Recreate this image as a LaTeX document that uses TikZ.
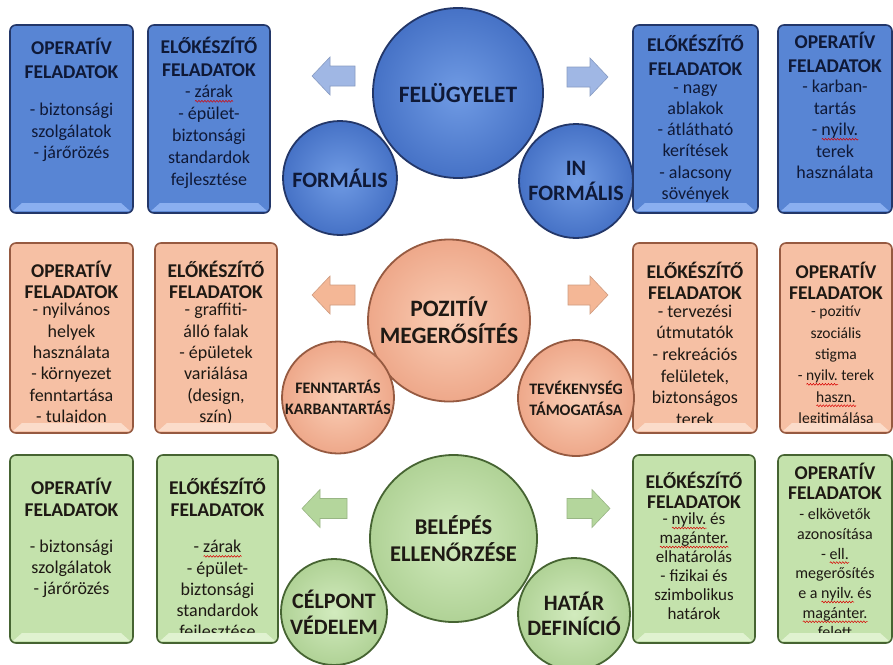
\documentclass[tikz,border=0pt]{standalone}
\usepackage{fontspec}
\setmainfont{Carlito}
\usetikzlibrary{decorations.pathmorphing}

\definecolor{bluefill}{RGB}{88,133,212}
\definecolor{blueedge}{RGB}{35,55,105}
\definecolor{bluelight}{RGB}{138,175,240}
\definecolor{bluearr}{RGB}{160,183,228}
\definecolor{bluein}{RGB}{112,155,228}
\definecolor{blueout}{RGB}{70,114,198}
\definecolor{bluetext}{RGB}{15,25,55}
\definecolor{orangefill}{RGB}{246,192,164}
\definecolor{orangeedge}{RGB}{150,90,65}
\definecolor{orangelight}{RGB}{251,220,202}
\definecolor{orangearr}{RGB}{244,183,150}
\definecolor{orangein}{RGB}{250,206,182}
\definecolor{orangeout}{RGB}{238,168,138}
\definecolor{greenfill}{RGB}{196,226,172}
\definecolor{greenedge}{RGB}{70,100,50}
\definecolor{greenlight}{RGB}{224,242,208}
\definecolor{greenarr}{RGB}{180,214,156}
\definecolor{greenin}{RGB}{210,235,190}
\definecolor{greenout}{RGB}{176,210,150}
\definecolor{darktext}{RGB}{30,25,20}

% red spell-check wave under a word
\newsavebox\spellbox
\newlength\spellwd
\newcommand\spellerr[1]{\sbox\spellbox{#1}\setlength\spellwd{\wd\spellbox}%
  \rlap{\tikz[baseline=0pt,x=1pt,y=1pt]\draw[red!85!black, line width=0.5,
    decorate, decoration={snake, amplitude=0.9pt, segment length=3pt}] (0,-3.5) -- (\spellwd,-3.5);}%
  \usebox\spellbox}

\begin{document}
\begin{tikzpicture}[x=1pt,y=-1pt,
  boxtitle/.style={font=\bfseries\fontsize{19.5}{23.5}\selectfont, align=center, inner sep=0,
    execute at begin node={\rule{0pt}{0.82em}}},
  boxbody/.style={font=\fontsize{18}{21.5}\selectfont, align=center, inner sep=0,
    execute at begin node={\rule{0pt}{0.75em}}, execute at end node={\rule[-0.22em]{0pt}{0.22em}}},
  bigcirc/.style={circle, line width=1.8, minimum size=#1, inner sep=0, align=center,
    font=\bfseries\fontsize{23.5}{27}\selectfont},
  smallcirc/.style={circle, line width=1.8, minimum size=#1, inner sep=0, align=center,
    font=\bfseries\fontsize{22}{25.5}\selectfont}]
\fill[white] (0,0) rectangle (893,664);
\useasboundingbox (0,0) rectangle (893,664);

% Task boxes
\foreach \xa/\xb/\ya/\yb/\col in {10/133/25/213/blue, 148/270/25/213/blue, 633/758/25/213/blue, 778/892/25/213/blue,
    10/133/243/433/orange, 155/277/243/433/orange, 633/757/243/433/orange, 780/892/243/433/orange,
    10/133/455/643/green, 157/278/455/643/green, 633/755/455/643/green, 778/892/455/643/green}
  \draw[draw=\col edge, fill=\col fill, line width=1.6, rounded corners=6] (\xa,\ya) rectangle (\xb,\yb);

% Big circles
\node[bigcirc=170, draw=blueedge, inner color=bluein, outer color=blueout, text=bluetext] (felugyelet) at (458,93) {FELÜGYELET};
\node[bigcirc=162, draw=orangeedge, inner color=orangein, outer color=orangeout, text=darktext] (pozitiv) at (449,320.5) {POZITÍV\\MEGERŐSÍTÉS};
\node[bigcirc=167, draw=greenedge, inner color=greenin, outer color=greenout, text=darktext,
  font=\bfseries\fontsize{22.5}{27}\selectfont] (belepes) at (453.5,538.5) {BELÉPÉS\\ELLENŐRZÉSE};

% Small circles
\node[smallcirc=114, draw=blueedge, inner color=bluein, outer color=blueout, text=bluetext] (formalis) at (340,178) {FORMÁLIS};
\node[smallcirc=114, draw=blueedge, inner color=bluein, outer color=blueout, text=bluetext] (informalis) at (576,181) {IN\\FORMÁLIS};
\node[smallcirc=112, draw=orangeedge, inner color=orangein, outer color=orangeout, text=darktext,
  font=\bfseries\fontsize{16}{21}\selectfont] (fenntartas) at (338,397.5) {FENNTARTÁS\\KARBANTARTÁS};
\node[smallcirc=116, draw=orangeedge, inner color=orangein, outer color=orangeout, text=darktext,
  font=\bfseries\fontsize{16}{21}\selectfont] (tevekenyseg) at (576,398) {TEVÉKENYSÉG\\TÁMOGATÁSA};
\node[smallcirc=106, draw=greenedge, inner color=greenin, outer color=greenout, text=darktext] (celpont) at (334,612) {CÉLPONT\\VÉDELEM};
\node[smallcirc=112, draw=greenedge, inner color=greenin, outer color=greenout, text=darktext] (hatar) at (574,614) {HATÁR\\DEFINÍCIÓ};

% Arrows
\foreach \xa/\xb/\yc/\col in {312/355/76/blue, 312/355/295/orange, 302/347/508.5/green}
  \filldraw[fill=\col arr, draw=\col arr!85!black, line width=0.6] (\xa,\yc) -- (\xa+18,\yc-19) -- (\xa+18,\yc-10)
    -- (\xb,\yc-10) -- (\xb,\yc+10) -- (\xa+18,\yc+10) -- (\xa+18,\yc+19) -- cycle;
\foreach \xa/\xb/\yc/\col in {567/608/77/blue, 568/608/295/orange, 567/610/508.5/green}
  \filldraw[fill=\col arr, draw=\col arr!85!black, line width=0.6] (\xb,\yc) -- (\xb-18,\yc-19) -- (\xb-18,\yc-10)
    -- (\xa,\yc-10) -- (\xa,\yc+10) -- (\xb-18,\yc+10) -- (\xb-18,\yc+19) -- cycle;

% Blue row texts
\begin{scope}[text=bluetext]
\node[boxtitle] (b1t) at (71.5,58.3) {OPERATÍV\\FELADATOK};
\node[boxbody] (b1b) at (71.5,133) {- biztonsági\\szolgálatok\\- járőrözés};
\node[boxtitle] (b2t) at (209,56.8) {ELŐKÉSZÍTŐ\\FELADATOK};
\node[boxbody, font=\fontsize{18}{22}\selectfont] (b2b) at (209,137.5) {- \spellerr{zárak}\\- épület-\\biztonsági\\standardok\\fejlesztése};
\node[boxtitle] (b3t) at (695.5,55.5) {ELŐKÉSZÍTŐ\\FELADATOK};
\node[boxbody, font=\fontsize{18}{21.2}\selectfont] (b3b) at (695.5,144) {- nagy\\ablakok\\- átlátható\\kerítések\\- alacsony\\sövények};
\node[boxtitle] (b4t) at (835,52.3) {OPERATÍV\\FELADATOK};
\node[boxbody] (b4b) at (835,131.5) {- karban-\\tartás\\- \spellerr{nyilv.}\\terek\\használata};
\end{scope}

% Orange row texts
\begin{scope}[text=darktext]
\node[boxtitle, font=\bfseries\fontsize{19.5}{21.5}\selectfont] (o1t) at (71.5,279.8) {OPERATÍV\\FELADATOK};
\node[boxbody, font=\fontsize{18}{21.4}\selectfont] (o1b) at (71.5,365) {- nyilvános\\helyek\\használata\\- környezet\\fenntartása\\- tulajdon};
\node[boxtitle, font=\bfseries\fontsize{19.5}{21.5}\selectfont] (o2t) at (216,279.8) {ELŐKÉSZÍTŐ\\FELADATOK};
\node[boxbody, font=\fontsize{18}{21.4}\selectfont] (o2b) at (216,365) {- graffiti-\\álló falak\\- épületek\\variálása\\(design,\\szín)};
\node[boxtitle, font=\bfseries\fontsize{19.5}{21}\selectfont] (o3t) at (695,280.5) {ELŐKÉSZÍTŐ\\FELADATOK};
\node[boxbody, font=\fontsize{18}{21.6}\selectfont] (o3b) at (695,367) {- tervezési\\útmutatók\\- rekreációs\\felületek,\\biztonságos\\terek};
\node[boxtitle, font=\bfseries\fontsize{19.5}{21}\selectfont] (o4t) at (836,280.5) {OPERATÍV\\FELADATOK};
\node[boxbody, font=\fontsize{15.5}{21.4}\selectfont] (o4b) at (836,366.5) {- pozitív\\szociális\\stigma\\- \spellerr{nyilv.} terek\\\spellerr{haszn.}\\legitimálása};

% Green row texts
\node[boxtitle, font=\bfseries\fontsize{19.5}{22}\selectfont] (g1t) at (71.5,497.3) {OPERATÍV\\FELADATOK};
\node[boxbody, font=\fontsize{18}{21}\selectfont] (g1b) at (71.5,569.5) {- biztonsági\\szolgálatok\\- járőrözés};
\node[boxtitle, font=\bfseries\fontsize{19.5}{22}\selectfont] (g2t) at (217.5,497.3) {ELŐKÉSZÍTŐ\\FELADATOK};
\node[boxbody, font=\fontsize{18}{21.2}\selectfont] (g2b) at (217.5,591) {- \spellerr{zárak}\\- épület-\\biztonsági\\standardok\\fejlesztése};
\node[boxtitle, font=\bfseries\fontsize{19.5}{20.5}\selectfont] (g3t) at (694,490.3) {ELŐKÉSZÍTŐ\\FELADATOK};
\node[boxbody, font=\fontsize{17}{19}\selectfont] (g3b) at (694,568) {- \spellerr{nyilv.} és\\\spellerr{magánter.}\\elhatárolás\\- fizikai és\\szimbolikus\\határok};
\node[boxtitle, font=\bfseries\fontsize{19.5}{20.5}\selectfont] (g4t) at (835,481.3) {OPERATÍV\\FELADATOK};
\node[boxbody, font=\fontsize{16}{19.7}\selectfont] (g4b) at (835,575) {- elkövetők\\azonosítása\\- \spellerr{ell.}\\megerősítés\\e a \spellerr{nyilv.} és\\\spellerr{magánter.}\\felett};
\end{scope}

% Bevel bands over the box bottoms
\foreach \xa/\xb/\yb/\col in {10/133/213/blue, 148/270/213/blue, 633/758/213/blue, 778/892/213/blue,
    10/133/433/orange, 155/277/433/orange, 633/757/433/orange, 780/892/433/orange,
    10/133/643/green, 157/278/643/green, 633/755/643/green, 778/892/643/green}
  \fill[\col light] (\xa+3,\yb-2) -- (\xa+12,\yb-10) -- (\xb-12,\yb-10) -- (\xb-3,\yb-2) -- cycle;
\end{tikzpicture}
\end{document}
